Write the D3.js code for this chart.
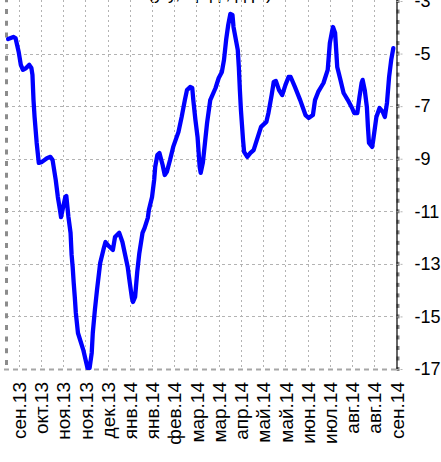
<!DOCTYPE html>
<html>
<head>
<meta charset="utf-8">
<script src="https://cdn.jsdelivr.net/npm/d3@7"></script>
<style>
  html, body { margin: 0; padding: 0; background: #fff; }
  svg { display: block; }
  text { font-family: "Liberation Sans", Arial, sans-serif; fill: #000; }
</style>
</head>
<body>
<svg id="chart" width="441" height="462"></svg>
<script>
// Weekly-ish observations, Sep 2013 – Sep 2014
const dates = [
  "2013-09-10","2013-09-15","2013-09-17","2013-09-20","2013-09-22","2013-09-24","2013-09-27","2013-09-30",
  "2013-10-02","2013-10-03","2013-10-04","2013-10-05","2013-10-07","2013-10-09","2013-10-12","2013-10-17",
  "2013-10-20","2013-10-22","2013-10-25","2013-10-27","2013-10-29","2013-10-30","2013-11-01","2013-11-03",
  "2013-11-04","2013-11-06","2013-11-08","2013-11-09","2013-11-10","2013-11-11","2013-11-12","2013-11-13",
  "2013-11-15","2013-11-20","2013-11-24","2013-11-26","2013-11-28","2013-11-29","2013-12-01","2013-12-03",
  "2013-12-06","2013-12-09","2013-12-11","2013-12-14","2013-12-18","2013-12-20","2013-12-24","2013-12-27",
  "2013-12-30","2014-01-01","2014-01-03","2014-01-05","2014-01-06","2014-01-08","2014-01-10","2014-01-12",
  "2014-01-15","2014-01-17","2014-01-20","2014-01-21","2014-01-24","2014-01-26","2014-01-27","2014-01-29",
  "2014-01-31","2014-02-03","2014-02-05","2014-02-07","2014-02-10","2014-02-13","2014-02-18","2014-02-21",
  "2014-02-24","2014-02-26","2014-03-01","2014-03-03","2014-03-04","2014-03-06","2014-03-08","2014-03-10",
  "2014-03-11","2014-03-13","2014-03-15","2014-03-17","2014-03-20","2014-03-25","2014-03-28","2014-03-31",
  "2014-04-02","2014-04-04","2014-04-06","2014-04-08","2014-04-10","2014-04-11","2014-04-15","2014-04-16",
  "2014-04-17","2014-04-18","2014-04-19","2014-04-20","2014-04-21","2014-04-24","2014-04-27","2014-04-30",
  "2014-05-03","2014-05-07","2014-05-12","2014-05-14","2014-05-17","2014-05-19","2014-05-21","2014-05-24",
  "2014-05-27","2014-05-30","2014-06-02","2014-06-04","2014-06-08","2014-06-13","2014-06-18","2014-06-21",
  "2014-06-25","2014-06-27","2014-06-30","2014-07-05","2014-07-09","2014-07-11","2014-07-13","2014-07-14",
  "2014-07-16","2014-07-18","2014-07-21","2014-07-24","2014-07-28","2014-08-01","2014-08-03","2014-08-06",
  "2014-08-08","2014-08-10","2014-08-11","2014-08-13","2014-08-15","2014-08-16","2014-08-17","2014-08-20",
  "2014-08-21","2014-08-24","2014-08-27","2014-08-30","2014-09-01","2014-09-03","2014-09-05","2014-09-07",
  "2014-09-09"
];
const values = [
  -4.45,-4.37,-4.41,-4.94,-5.43,-5.62,-5.55,-5.43,
  -5.55,-5.81,-6.77,-7.41,-8.40,-9.16,-9.12,-8.97,
  -8.93,-9.05,-9.81,-10.46,-10.95,-11.22,-10.84,-10.46,
  -10.42,-11.22,-11.82,-12.66,-13.12,-13.73,-14.26,-14.87,
  -15.63,-16.27,-16.96,-16.96,-16.39,-15.63,-14.75,-13.99,
  -12.97,-12.47,-12.17,-12.32,-12.47,-11.98,-11.82,-12.17,
  -12.74,-13.12,-13.73,-14.30,-14.45,-14.26,-13.31,-12.59,
  -11.82,-11.63,-11.25,-10.95,-10.46,-9.81,-9.31,-8.86,
  -8.78,-9.24,-9.62,-9.50,-9.05,-8.55,-7.98,-7.41,
  -6.77,-6.39,-6.27,-6.31,-6.77,-7.53,-8.17,-9.31,
  -9.54,-9.16,-8.40,-7.64,-6.77,-6.31,-5.93,-5.70,
  -5.24,-4.48,-3.91,-3.49,-3.53,-3.99,-4.86,-5.51,
  -6.39,-7.15,-7.72,-8.29,-8.74,-8.93,-8.78,-8.67,
  -8.29,-7.79,-7.60,-7.26,-6.58,-6.08,-6.04,-6.39,
  -6.58,-6.20,-5.89,-5.89,-6.27,-6.77,-7.34,-7.45,
  -7.34,-6.77,-6.46,-6.12,-5.62,-4.60,-4.18,-3.99,
  -4.22,-5.51,-6.00,-6.50,-6.77,-7.07,-7.26,-7.26,
  -6.65,-6.12,-6.00,-6.39,-7.03,-7.79,-8.40,-8.55,
  -8.29,-7.41,-7.07,-7.22,-7.41,-6.88,-5.89,-5.24,
  -4.79
];

// Axis labels
const tickLabels = [
  "сен.13","окт.13","ноя.13","ноя.13","дек.13","янв.14","янв.14","фев.14","мар.14",
  "мар.14","апр.14","май.14","май.14","июн.14","июл.14","авг.14","авг.14","сен.14"
];
const firstTick = "2013-09-20";
const tickStepDays = 21;
const yTicks = [-3, -5, -7, -9, -11, -13, -15, -17];
const yMinorStep = 0.4;
const titleText = "(у/у, пр.д., д.р.)";

const parse = d3.timeParse("%Y-%m-%d");
const series = dates.map((d, i) => ({ date: parse(d), value: values[i] }));
const tickDates = tickLabels.map((_, i) => d3.timeDay.offset(parse(firstTick), i * tickStepDays));

const svg = d3.select("#chart");
const plotLeft = 6, plotRight = 396.5, plotTop = 1, plotBottom = 369;

const x = d3.scaleTime()
  .domain([parse("2013-09-08"), parse("2014-09-12")])
  .range([plotLeft, plotRight]);
const y = d3.scaleLinear().domain([-17, -3]).range([plotBottom, plotTop]);

const gridColor = "#b3b3b3";

// title, largely above the visible area
svg.append("text")
  .attr("x", 210).attr("y", -1)
  .attr("text-anchor", "middle")
  .style("font-size", "18px")
  .text(titleText);

// horizontal gridlines
svg.append("g").selectAll("line")
  .data(yTicks.filter(v => v !== -17 && v !== -3))
  .join("line")
  .attr("x1", plotLeft).attr("x2", plotRight)
  .attr("y1", d => Math.round(y(d)) + 0.5).attr("y2", d => Math.round(y(d)) + 0.5)
  .attr("stroke", gridColor).attr("stroke-width", 1)
  .attr("stroke-dasharray", "3,3");

// vertical gridlines
svg.append("g").selectAll("line")
  .data(tickDates.slice(0, -1))
  .join("line")
  .attr("x1", d => Math.round(x(d)) + 0.5).attr("x2", d => Math.round(x(d)) + 0.5)
  .attr("y1", 0).attr("y2", plotBottom)
  .attr("stroke", gridColor).attr("stroke-width", 1)
  .attr("stroke-dasharray", "2,3");

// left (dashed) edge
svg.append("line")
  .attr("x1", plotLeft + 0.5).attr("x2", plotLeft + 0.5)
  .attr("y1", 0).attr("y2", plotBottom)
  .attr("stroke", "#8c8c8c").attr("stroke-width", 3)
  .attr("stroke-dasharray", "5,6.7")
  .attr("stroke-dashoffset", -9);

// bottom (dashed) edge
svg.append("line")
  .attr("x1", plotLeft - 2).attr("x2", plotRight)
  .attr("y1", plotBottom + 0.5).attr("y2", plotBottom + 0.5)
  .attr("stroke", "#a6a6a6").attr("stroke-width", 2)
  .attr("stroke-dasharray", "5,4");

// data line
const line = d3.line()
  .x(d => x(d.date))
  .y(d => y(d.value));

svg.append("path")
  .datum(series)
  .attr("d", line)
  .attr("fill", "none")
  .attr("stroke", "#0000ff")
  .attr("stroke-width", 4.3)
  .attr("stroke-linejoin", "round")
  .attr("stroke-linecap", "round");

// right value axis
const minor = d3.range(-17, -3 + 1e-6, yMinorStep);
svg.append("g").selectAll("line")
  .data(minor)
  .join("line")
  .attr("x1", plotRight).attr("x2", plotRight + 3)
  .attr("y1", d => y(d)).attr("y2", d => y(d))
  .attr("stroke", "#808080").attr("stroke-width", 4);

const yAxis = svg.append("g")
  .attr("transform", `translate(${plotRight},0)`)
  .call(d3.axisRight(y).tickValues(yTicks).tickSize(6).tickPadding(12).tickFormat(d => d3.format("d")(d).replace("−", "-")));
yAxis.select(".domain").attr("stroke", "#000").attr("stroke-width", 1.2).attr("d", `M0.5,0V${plotBottom}`);
yAxis.selectAll(".tick line").attr("stroke", gridColor).attr("stroke-dasharray", "2,2");
yAxis.selectAll(".tick text")
  .style("font-size", "18px")
  .attr("font-family", null)
  .attr("fill", "#000");

// date axis labels
const xAxis = svg.append("g")
  .attr("transform", `translate(0,${plotBottom})`)
  .call(d3.axisBottom(x).tickValues(tickDates).tickSize(0).tickFormat((d, i) => tickLabels[i]));
xAxis.select(".domain").remove();
xAxis.selectAll(".tick text")
  .style("font-size", "19px")
  .attr("font-family", null)
  .attr("fill", "#000")
  .attr("text-anchor", "end")
  .attr("transform", "rotate(-90)")
  .attr("x", -13)
  .attr("y", 0)
  .attr("dy", "0.35em");
</script>
</body>
</html>
